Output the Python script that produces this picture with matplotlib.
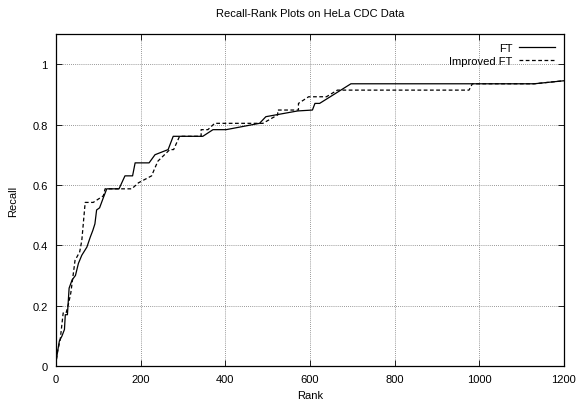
import numpy as np
import matplotlib
matplotlib.use("Agg")
import matplotlib.pyplot as plt

plt.rcParams['font.family'] = ['Liberation Sans', 'DejaVu Sans']

# recall at each rank, FT
ft_rank = [1, 4, 8, 14, 20, 22, 27, 31, 38, 46, 53, 61, 73, 81, 87, 92, 96, 103,
           112, 120, 149, 163, 181, 187, 220, 234, 265, 277, 347, 371, 402, 481,
           496, 571, 606, 612, 623, 697, 1000, 1130, 1200]
ft_recall = [0.022, 0.05, 0.083, 0.099, 0.121, 0.17, 0.17, 0.258, 0.285, 0.30,
             0.34, 0.367, 0.394, 0.427, 0.449, 0.471, 0.517, 0.524, 0.558, 0.587,
             0.587, 0.63, 0.63, 0.673, 0.673, 0.70, 0.717, 0.761, 0.761, 0.783,
             0.783, 0.804, 0.826, 0.845, 0.848, 0.87, 0.87, 0.935, 0.935, 0.935,
             0.945]

# recall at each rank, Improved FT
imp_rank = [1, 4, 10, 17, 24, 30, 35, 39, 45, 56, 61, 69, 88, 112, 116, 124,
            179, 195, 226, 234, 241, 269, 278, 292, 343, 343, 359, 375, 481,
            489, 524, 524, 573, 573, 597, 639, 665, 976, 984, 1130, 1200]
imp_recall = [0.022, 0.05, 0.088, 0.176, 0.176, 0.209, 0.242, 0.285, 0.35,
              0.378, 0.416, 0.542, 0.542, 0.564, 0.587, 0.587, 0.587, 0.607,
              0.63, 0.657, 0.679, 0.717, 0.717, 0.761, 0.761, 0.783, 0.783,
              0.804, 0.804, 0.804, 0.832, 0.848, 0.848, 0.87, 0.892, 0.892,
              0.914, 0.914, 0.935, 0.935, 0.945]

x_ticks = [0, 200, 400, 600, 800, 1000, 1200]
y_ticks = [0, 0.2, 0.4, 0.6, 0.8, 1]
y_labels = ['0', '0.2', '0.4', '0.6', '0.8', '1']

fig = plt.figure(figsize=(5.79, 4.02), dpi=100)
ax = fig.add_axes([0.0967, 0.087, 0.877, 0.826])

ax.plot(ft_rank, ft_recall, color='black', lw=0.9, label='FT')
ax.plot(imp_rank, imp_recall, color='black', lw=0.9, dashes=(3, 2),
        label='Improved FT')

ax.set_xlim(0, 1200)
ax.set_ylim(0, 1.1)
ax.set_xticks(x_ticks)
ax.set_yticks(y_ticks)
ax.set_yticklabels(y_labels)
ax.tick_params(direction='in', top=True, right=True, labelsize=8,
               length=4, width=0.6, pad=6)
ax.grid(True, color='#777777', linestyle=(0, (1, 1.5)), linewidth=0.6)
for s in ax.spines.values():
    s.set_linewidth(0.9)

ax.set_xlabel('Rank', fontsize=8, labelpad=4)
ax.set_ylabel('Recall', fontsize=8, labelpad=10)
ax.set_title('Recall-Rank Plots on HeLa CDC Data', fontsize=8, pad=13)

ax.legend(loc='upper right', frameon=False, markerfirst=False, fontsize=8,
          handlelength=3.2, handletextpad=0.6, labelspacing=0.3,
          borderaxespad=0.4)

fig.savefig('out.png', dpi=100)
